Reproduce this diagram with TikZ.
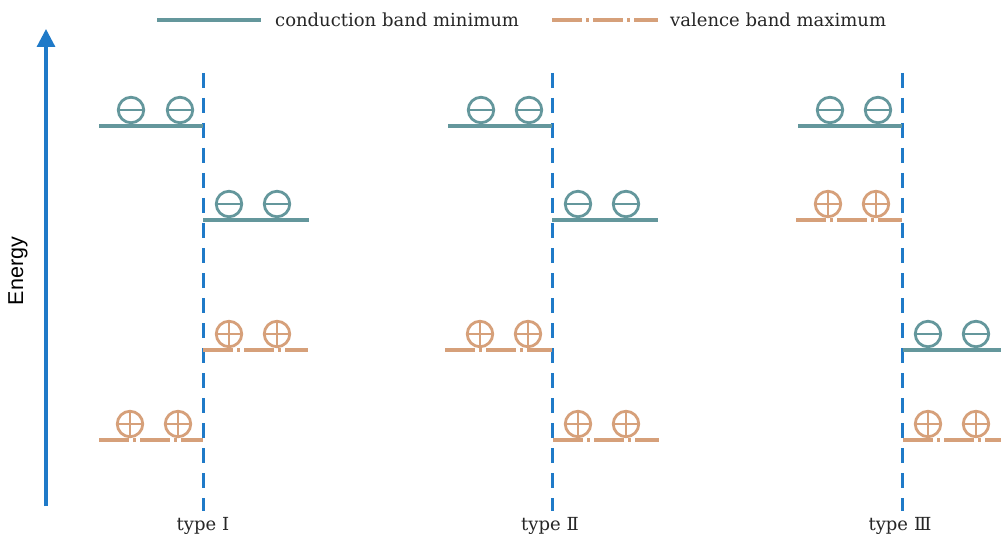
\documentclass[tikz,border=0pt]{standalone}
\usepackage{fontspec}
\newfontfamily\labelsans{Liberation Sans}
\newfontfamily\labelserif{DejaVu Serif}
\usetikzlibrary{arrows.meta}
\definecolor{cbteal}{RGB}{100,151,156}
\definecolor{vborange}{RGB}{214,160,122}
\definecolor{axisblue}{RGB}{31,122,200}
\tikzset{
  cbline/.style={draw=cbteal, line width=3.2pt},
  vbline/.style={draw=vborange, line width=3.2pt, dash pattern=on 30pt off 4pt on 3pt off 4pt},
  interface/.style={draw=axisblue, line width=3pt, dash pattern=on 15pt off 10pt},
  carrier/.style={circle, draw, line width=2.8pt, minimum size=25.5pt, inner sep=0pt},
  electron/.style={carrier, draw=cbteal,
    path picture={\draw[cbteal, line width=2.8pt]
      (path picture bounding box.west) -- (path picture bounding box.east);}},
  hole/.style={carrier, draw=vborange,
    path picture={\draw[vborange, line width=2.8pt]
      (path picture bounding box.west) -- (path picture bounding box.east)
      (path picture bounding box.north) -- (path picture bounding box.south);}},
  caption/.style={font=\labelserif\fontsize{18}{21}\selectfont, text=black!85, inner sep=0pt},
}
\begin{document}
\begin{tikzpicture}[x=1pt, y=-1pt]
\useasboundingbox (0,0) rectangle (1001,540);

% energy axis
\coordinate (eb) at (46,506);
\coordinate (et) at (46,29);
\draw[axisblue, line width=3.2pt, -{Triangle[length=18pt, width=18pt]}] (eb) -- (et);
\node[rotate=90, font=\labelsans\fontsize{21.5}{24}\selectfont] (energy) at (18,271) {Energy};

% legend
\coordinate (lc1) at (157,20); \coordinate (lc2) at (261,20);
\draw[cbline] (lc1) -- (lc2);
\node[caption, anchor=west] (lct) at (275,20) {conduction band minimum};
\coordinate (lv1) at (552,20); \coordinate (lv2) at (658,20);
\draw[vbline] (lv1) -- (lv2);
\node[caption, anchor=west] (lvt) at (670,20) {valence band maximum};

% interfaces
\foreach \n/\x in {1/203, 2/552, 3/902}{
  \coordinate (it\n) at (\x,73);
  \coordinate (ib\n) at (\x,511);
  \draw[interface] (it\n) -- (ib\n);
}

% type I
\coordinate (a1) at (99,126);  \coordinate (a2) at (203,126);
\coordinate (b1) at (203,220); \coordinate (b2) at (309,220);
\coordinate (c1) at (203,350); \coordinate (c2) at (308,350);
\coordinate (d1) at (99,440);  \coordinate (d2) at (203,440);
\draw[cbline] (a1) -- (a2);
\draw[cbline] (b1) -- (b2);
\draw[vbline] (c1) -- (c2);
\draw[vbline] (d1) -- (d2);
\node[electron] (e11) at (131,110) {}; \node[electron] (e12) at (180,110) {};
\node[electron] (e13) at (229,204) {}; \node[electron] (e14) at (277,204) {};
\node[hole] (h11) at (229,334) {}; \node[hole] (h12) at (277,334) {};
\node[hole] (h13) at (130,424) {}; \node[hole] (h14) at (178,424) {};

% type II
\coordinate (f1) at (448,126); \coordinate (f2) at (552,126);
\coordinate (g1) at (552,220); \coordinate (g2) at (658,220);
\coordinate (k1) at (445,350); \coordinate (k2) at (552,350);
\coordinate (m1) at (553,440); \coordinate (m2) at (659,440);
\draw[cbline] (f1) -- (f2);
\draw[cbline] (g1) -- (g2);
\draw[vbline] (k1) -- (k2);
\draw[vbline] (m1) -- (m2);
\node[electron] (e21) at (481,110) {}; \node[electron] (e22) at (529,110) {};
\node[electron] (e23) at (578,204) {}; \node[electron] (e24) at (626,204) {};
\node[hole] (h21) at (480,334) {}; \node[hole] (h22) at (528,334) {};
\node[hole] (h23) at (578,424) {}; \node[hole] (h24) at (626,424) {};

% type III
\coordinate (p1) at (798,126); \coordinate (p2) at (902,126);
\coordinate (q1) at (796,220); \coordinate (q2) at (902,220);
\coordinate (r1) at (903,350); \coordinate (r2) at (1003,350);
\coordinate (s1) at (903,440); \coordinate (s2) at (1003,440);
\draw[cbline] (p1) -- (p2);
\draw[vbline] (q1) -- (q2);
\draw[cbline] (r1) -- (r2);
\draw[vbline] (s1) -- (s2);
\node[electron] (e31) at (830,110) {}; \node[electron] (e32) at (878,110) {};
\node[hole] (h31) at (828,204) {}; \node[hole] (h32) at (876,204) {};
\node[electron] (e33) at (928,334) {}; \node[electron] (e34) at (976,334) {};
\node[hole] (h33) at (928,424) {}; \node[hole] (h34) at (976,424) {};

% type labels
\node[caption] (t1) at (203,526) {type\,\,Ⅰ};
\node[caption] (t2) at (550,526) {type\,\,Ⅱ};
\node[caption] (t3) at (900,526) {type\,\,Ⅲ};
\end{tikzpicture}
\end{document}
